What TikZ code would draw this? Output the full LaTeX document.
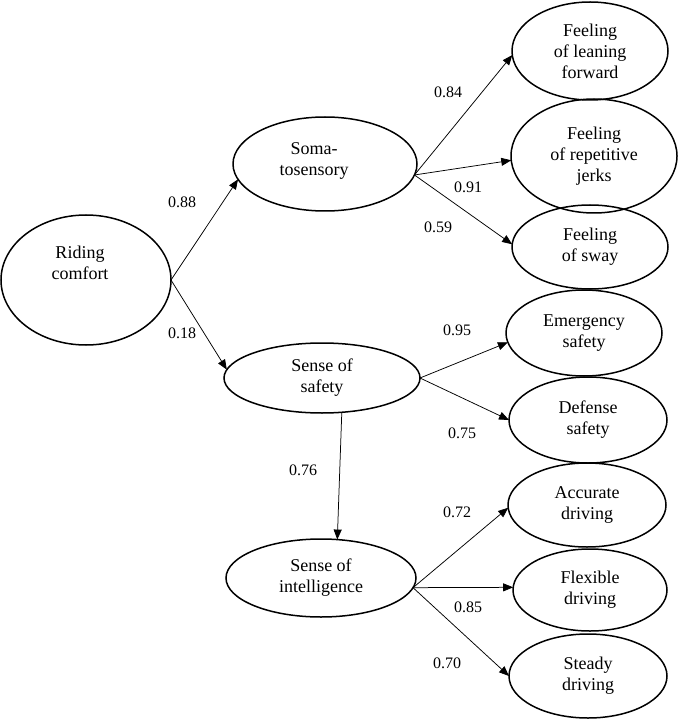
\documentclass[tikz,border=0pt]{standalone}
\usepackage{fontspec}
\setmainfont{Liberation Serif}
\usetikzlibrary{shapes.geometric,arrows.meta}
\begin{document}
\begin{tikzpicture}[x=1pt,y=-1pt,
  ell/.style={ellipse,draw,line width=1.5pt,inner sep=0pt,outer sep=0pt,align=center,
    font=\fontsize{18}{21}\selectfont},
  txt/.style={align=center,inner sep=0pt,font=\fontsize{18}{21}\selectfont},
  coef/.style={inner sep=0pt,font=\fontsize{16}{18}\selectfont},
  arr/.style={line width=0.75pt,-{Triangle[length=10pt,width=8pt]}}]
\useasboundingbox (0,0) rectangle (685,719);
% latent nodes
\node[ell,minimum width=170,minimum height=130] (rc) at (86,280) {};
\node[txt] (rct) at (80,263) {Riding\\comfort};
\node[ell,minimum width=184,minimum height=94] (so) at (325,164) {};
\node[txt] (sot) at (314,161) {Soma-\\tosensory};
\node[ell,minimum width=196,minimum height=70] (sa) at (322,378) {Sense of\\safety};
\node[ell,minimum width=190,minimum height=78] (in) at (321,578) {Sense of\\intelligence};
% indicators
\node[ell,minimum width=156,minimum height=98] (lf) at (590,51) {Feeling\\of leaning\\forward};
\node[ell,minimum width=166,minimum height=114] (rj) at (594,156) {Feeling\\of repetitive\\jerks};
\node[ell,minimum width=156,minimum height=84] (sw) at (590,247) {Feeling\\of sway};
\node[ell,minimum width=156,minimum height=86] (es) at (584,333) {Emergency\\safety};
\node[ell,minimum width=158,minimum height=86] (ds) at (588,420) {Defense\\safety};
\node[ell,minimum width=158,minimum height=84] (ad) at (587,505) {Accurate\\driving};
\node[ell,minimum width=154,minimum height=82] (fd) at (590,590) {Flexible\\driving};
\node[ell,minimum width=158,minimum height=84] (sd) at (588,676) {Steady\\driving};
% paths
\draw[arr] (rc.east) -- (so.190);
\draw[arr] (rc.east) -- (sa.175);
\draw[arr] (so.-7) -- (lf.183);
\draw[arr] (so.-7) -- (rj.183);
\draw[arr] (so.-7) -- (sw.178);
\draw[arr] (sa.east) -- (es.187);
\draw[arr] (sa.east) -- (ds.180);
\draw[arr] (sa.-60) -- (in.67);
\draw[arr] (in.-6) -- (ad.182);
\draw[arr] (in.-6) -- (fd.178);
\draw[arr] (in.-6) -- (sd.180);
% coefficients
\node[coef] (c1) at (182,202) {0.88};
\node[coef] (c2) at (182,333) {0.18};
\node[coef] (c3) at (448,92) {0.84};
\node[coef] (c4) at (468,187) {0.91};
\node[coef] (c5) at (438,227) {0.59};
\node[coef] (c6) at (457,330) {0.95};
\node[coef] (c7) at (462,433) {0.75};
\node[coef] (c8) at (303,470) {0.76};
\node[coef] (c9) at (457,512) {0.72};
\node[coef] (c10) at (468,607) {0.85};
\node[coef] (c11) at (447,663) {0.70};
\end{tikzpicture}
\end{document}
